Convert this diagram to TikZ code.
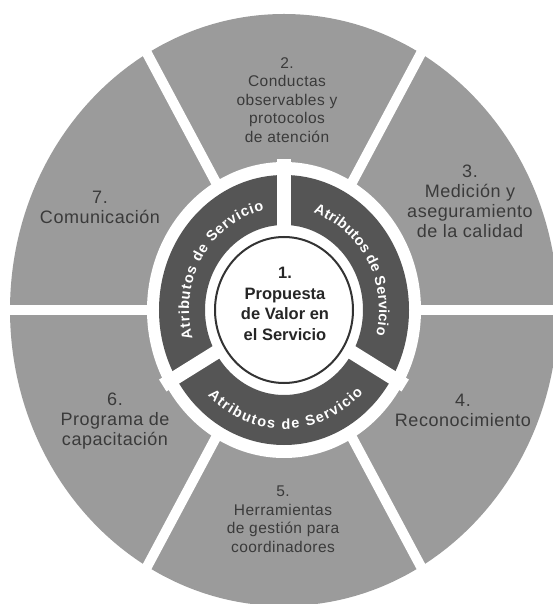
\documentclass[tikz,border=0pt]{standalone}
\usepackage{fontspec}
\setmainfont{Liberation Sans}
\newfontfamily\lblfont[LetterSpace=3]{Liberation Sans}
\usetikzlibrary{decorations.text}

\definecolor{segfill}{HTML}{9B9B9B}
\definecolor{ringfill}{HTML}{555555}
\definecolor{lbltext}{HTML}{3A3A3A}
\definecolor{coreline}{HTML}{333333}

\tikzset{
  seglabel/.style={align=center, text=lbltext, inner sep=0pt,
    font=\lblfont\fontsize{18}{20}\selectfont},
  seglabelsmall/.style={seglabel, font=\lblfont\fontsize{15.5}{18.5}\selectfont},
  segcut/.style={white, line width=10pt},
  ringcut/.style={white, line width=14pt},
  ringtext/.style={decorate, decoration={text along path,
    text color=white, text align={fit to path},
    text={|\bfseries\fontsize{14.5}{14.5}\selectfont|#1}}},
}

\begin{document}
\begin{tikzpicture}[x=1pt, y=1pt]
  \useasboundingbox (-284,-294) rectangle (269,310);

  % outer ring of six segments
  \fill[segfill] (0,0) ellipse [x radius=274, y radius=296];
  \foreach \a in {0,60,...,300}
    \draw[segcut] (0,0) -- (\a:280 and 303);

  % white band, dark ring of three arcs, white core
  \fill[white] (0,0) ellipse [x radius=137, y radius=148];
  \fill[ringfill, even odd rule]
    (0,0) ellipse [x radius=125, y radius=135]
    (0,0) ellipse [x radius=79, y radius=85];
  \foreach \a in {90,210,330}
    \draw[ringcut] (0,0) -- (\a:140 and 151);
  \draw[coreline, line width=2pt, fill=white]
    (0,0) ellipse [x radius=69, y radius=73];

  % lettering along the dark ring
  \path[ringtext={Atributos de Servicio}]
    (196:95 and 102) arc[start angle=196, end angle=102, x radius=95, y radius=102];
  \path[ringtext={Atributos de Servicio}]
    (72:95 and 102) arc[start angle=72, end angle=-14, x radius=95, y radius=102];
  \path[ringtext={Atributos de Servicio}]
    (226:110 and 119) arc[start angle=226, end angle=316, x radius=110, y radius=119];

  % centre
  \node[align=center, text=black!85, inner sep=0pt,
        font=\bfseries\fontsize{16.5}{20.5}\selectfont] (core) at (1,6)
    {1.\\Propuesta\\de Valor en\\el Servicio};

  % segment labels
  \node[seglabelsmall] (s2) at (3,210)
    {2.\\Conductas\\observables y\\protocolos\\de atención};
  \node[seglabel] (s3) at (186,109)
    {3.\\Medición y\\aseguramiento\\de la calidad};
  \node[seglabel] (s4) at (179,-100)
    {4.\\Reconocimiento};
  \node[seglabelsmall] (s5) at (-1,-209)
    {5.\\Herramientas\\de gestión para\\coordinadores};
  \node[seglabel] (s6) at (-169,-111)
    {6.\\Programa de\\capacitación};
  \node[seglabel] (s7) at (-184,103)
    {7.\\Comunicación};
\end{tikzpicture}
\end{document}
